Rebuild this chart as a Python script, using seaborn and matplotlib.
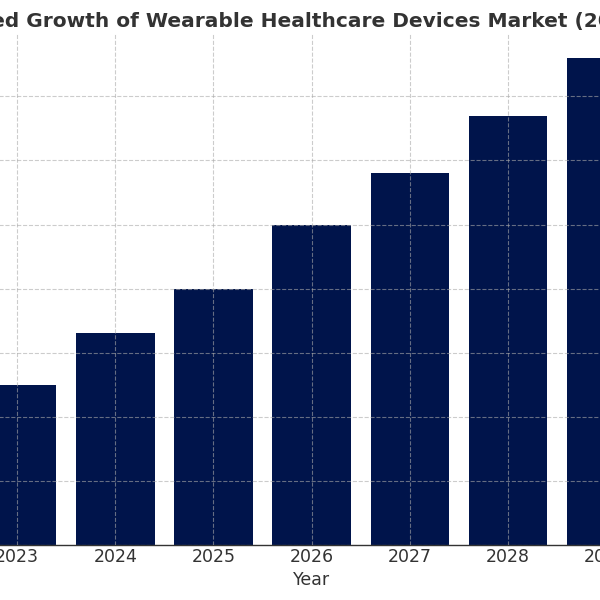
import matplotlib
matplotlib.use("Agg")
import matplotlib.pyplot as plt
import seaborn as sns
import pandas as pd

years = ["2023", "2024", "2025", "2026", "2027", "2028", "2029"]
market_size = [25.0, 33.0, 40.0, 50.0, 58.0, 67.0, 76.0]
title = "Projected Growth of Wearable Healthcare Devices Market (2023-2029)"
xlabel = "Year"
ylabel = "Market Size (in Billion USD)"

df = pd.DataFrame({"Year": years, "Market Size": market_size})

sns.set_style("white")
plt.rcParams["font.family"] = ["DejaVu Sans"]
text_color = "#333333"

fig = plt.figure(figsize=(6, 6), dpi=100)
# axes extends beyond the figure edges (reference is a crop of a wider chart)
ax = fig.add_axes([-55.6 / 600, 55 / 600, 734.5 / 600, 511.5 / 600])

sns.barplot(data=df, x="Year", y="Market Size", color="#00144b",
            saturation=1, width=0.8, linewidth=0, ax=ax)

ax.set_xlim(-0.74, 6.74)
ax.set_ylim(0, 79.8)
ax.set_yticks(range(0, 80, 10))
ax.set_axisbelow(False)
ax.grid(True, linestyle="--", color="#aaaaaa", alpha=0.6, linewidth=0.8)

for side in ["top", "right", "left"]:
    ax.spines[side].set_visible(False)
ax.spines["bottom"].set_color("#333333")
ax.spines["bottom"].set_linewidth(1.0)

ax.tick_params(axis="x", colors=text_color, labelsize=12.5, length=0, pad=2)
ax.tick_params(axis="y", colors=text_color, labelsize=12.5, length=0)
ax.set_xlabel(xlabel, fontsize=12.5, color=text_color, labelpad=3.5)
ax.set_ylabel(ylabel, fontsize=12.5, color=text_color)
ax.set_title(title, fontsize=14.5, fontweight="bold", color=text_color, pad=5)

fig.savefig("out.png", dpi=100)
